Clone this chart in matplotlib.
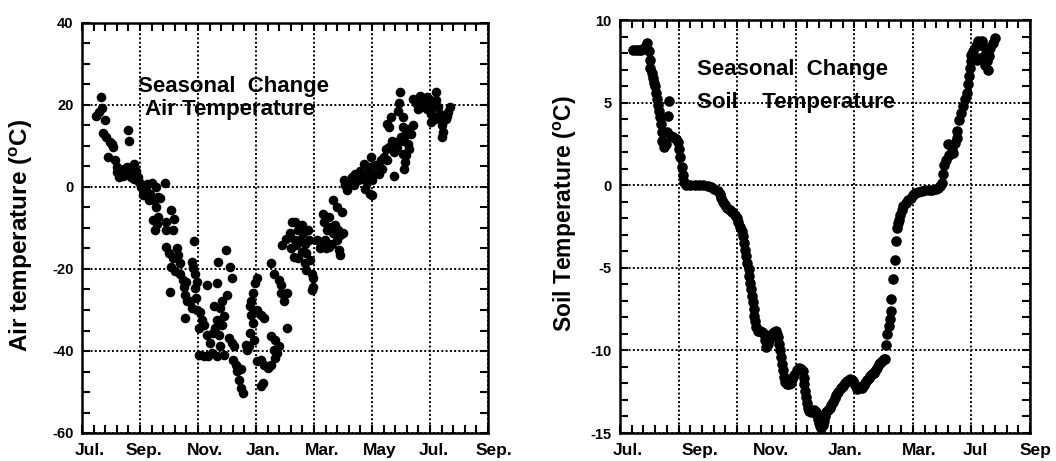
import numpy as np
import matplotlib
matplotlib.use('Agg')
from matplotlib import pyplot as plt
from matplotlib.ticker import MultipleLocator
from matplotlib.transforms import blended_transform_factory

plt.rcParams['font.family'] = 'Liberation Sans'
plt.rcParams['font.weight'] = 'bold'
plt.rcParams['axes.unicode_minus'] = False
plt.rcParams['mathtext.fontset'] = 'custom'
plt.rcParams['mathtext.rm'] = 'Liberation Sans:bold'
plt.rcParams['mathtext.bf'] = 'Liberation Sans:bold'

# x axis: months since 1 July (grid every 2 months)
air_labels = ['Jul.', 'Sep.', 'Nov.', 'Jan.', 'Mar.', 'May', 'Jul.', 'Sep.']
air_label_pos = [0.28, 2.14, 4.24, 6.24, 8.28, 10.28, 12.14, 14.21]
soil_labels = ['Jul.', 'Sep.', 'Nov.', 'Jan.', 'Mar.', 'Jul', 'Sep']
soil_label_pos = [0.27, 2.73, 5.15, 7.68, 10.2, 12.12, 14.2]

# daily air temperature (month, degC)
air_points = [
    (0.47, 17.4), (0.64, 22.0), (0.68, 19.3), (0.58, 18.2), (0.81, 16.4), (0.73, 13.1),
    (0.84, 12.1), (0.95, 10.9), (0.91, 7.3), (1.07, 9.7), (1.14, 6.5), (1.22, 4.9),
    (1.22, 3.6), (1.34, 4.0), (1.40, 2.8), (1.57, 13.8), (1.61, 11.3), (1.54, 4.9),
    (1.63, 3.6), (1.69, 2.4), (1.80, 5.7), (1.86, 4.0), (1.80, 2.0), (1.92, 2.4),
    (1.98, 1.2), (1.46, 4.5), (1.05, 10.5), (1.26, 2.4),
    (2.04, 0.0), (2.10, -2.0), (2.19, -0.8), (2.24, 0.8), (2.30, -3.2), (2.33, -1.6),
    (2.42, 1.0), (2.47, -3.1), (2.54, -4.9), (2.56, 0.0), (2.62, -2.4), (2.68, -2.8),
    (2.85, 1.0), (2.44, -8.1), (2.50, -10.5), (2.62, -7.3), (2.58, -9.1), (2.91, -8.5),
    (3.08, -5.5), (3.17, -7.7), (2.91, -10.5), (3.14, -10.5), (2.91, -14.6), (3.00, -16.2),
    (3.14, -17.4), (3.26, -15.0), (3.32, -16.6), (3.38, -18.6), (3.08, -19.4), (3.20, -20.6),
    (3.38, -21.1), (3.49, -22.7), (3.52, -24.3), (3.59, -23.1), (3.03, -25.5), (3.55, -26.3),
    (3.61, -27.9), (3.73, -27.9), (3.78, -29.6), (3.84, -19.8), (3.78, -18.2), (3.90, -21.1),
    (3.96, -23.1), (3.55, -32.0), (3.87, -13.1), (3.90, -24.7), (3.93, -27.1), (3.96, -30.0),
    (4.07, -30.4), (4.13, -32.4), (4.02, -34.4), (4.19, -33.6), (4.31, -36.0), (4.05, -40.9),
    (4.19, -41.3), (4.33, -41.1), (4.48, -40.5), (4.40, -38.1), (4.52, -35.6), (4.60, -34.4),
    (4.66, -32.4), (4.56, -29.1), (4.31, -23.9), (4.66, -23.5), (4.69, -18.2), (4.95, -15.4),
    (5.12, -19.4), (5.16, -22.3), (5.01, -26.3), (4.83, -27.9), (4.75, -29.6), (4.89, -31.4),
    (4.83, -33.6), (4.71, -36.0), (4.77, -38.9), (4.66, -41.3), (4.89, -40.9), (5.06, -36.8),
    (5.18, -38.1), (5.24, -38.9), (5.22, -42.1), (5.30, -43.3), (5.36, -44.9), (5.49, -44.5),
    (5.41, -47.0), (5.47, -49.0), (5.56, -50.2), (5.65, -38.5), (5.76, -38.9), (5.70, -39.7),
    (5.84, -27.9), (5.80, -29.1), (5.88, -25.9), (5.96, -23.5), (6.05, -22.3), (5.82, -31.2),
    (5.88, -33.2), (5.80, -35.6), (5.94, -37.2), (6.05, -30.0), (6.17, -31.2), (6.29, -32.0),
    (6.03, -42.5), (6.17, -42.1), (6.29, -43.3), (6.40, -44.1), (6.52, -43.3), (6.17, -48.6),
    (6.23, -47.8), (6.64, -41.7), (6.73, -40.5), (6.78, -38.9), (6.52, -36.4), (6.66, -37.2),
    (6.61, -39.7), (6.52, -18.6), (6.61, -21.1), (6.81, -22.7), (6.85, -23.9), (6.87, -25.9),
    (7.08, -25.9), (6.98, -27.9), (7.08, -34.4), (6.89, -14.2), (7.04, -12.6), (7.16, -11.3),
    (7.24, -8.5), (7.33, -8.5), (7.45, -10.5), (7.57, -9.3), (7.62, -11.3), (7.22, -15.0),
    (7.39, -14.2), (7.31, -17.0), (7.45, -17.4), (7.57, -15.8), (7.68, -13.8), (7.74, -16.2),
    (7.80, -10.5), (7.82, -13.0), (7.86, -17.8), (7.68, -18.6), (7.74, -20.2), (7.92, -21.1),
    (7.97, -22.3), (7.97, -24.3), (7.92, -25.1), (7.51, -13.0), (7.33, -13.0),
    (8.09, -13.0), (8.21, -15.0), (8.32, -6.5), (8.36, -8.5), (8.44, -10.5), (8.50, -7.3),
    (8.59, -9.7), (8.67, -11.3), (8.73, -9.3), (8.82, -10.5), (8.91, -11.7), (8.99, -11.3),
    (8.27, -13.4), (8.38, -13.0), (8.41, -15.0), (8.52, -14.6), (8.61, -13.8), (8.79, -13.0),
    (8.85, -15.4), (8.91, -16.6), (8.67, -3.2), (8.79, -4.9), (8.96, -6.1), (9.02, 1.6),
    (9.08, 0.4), (9.14, -0.8), (9.20, 1.2), (9.31, 2.4), (9.37, 0.4), (9.43, 3.2),
    (9.52, 1.6), (9.60, 4.0), (9.66, 2.0), (9.72, 5.7), (9.78, 3.2), (9.90, 4.9),
    (9.95, 7.3), (9.84, 1.2), (9.76, -0.4), (9.92, -1.6), (10.01, -2.0), (9.99, 1.6),
    (10.07, 3.2), (10.13, 5.3),
    (10.24, 3.2), (10.36, 4.5), (10.30, 6.5), (10.42, 7.3), (10.53, 6.5), (10.48, 9.3),
    (10.59, 9.7), (10.68, 11.3), (10.59, 14.6), (10.53, 15.4), (10.65, 17.0), (10.77, 2.8),
    (10.77, 8.5), (10.85, 9.7), (10.94, 11.3), (10.88, 18.6), (10.94, 20.6), (10.96, 23.1),
    (11.06, 17.0), (11.08, 14.6), (11.00, 12.1), (11.12, 11.3), (11.18, 13.0), (11.29, 14.2),
    (11.35, 13.0), (11.41, 15.0), (11.23, 10.5), (11.29, 9.3), (11.18, 7.7), (11.15, 6.1),
    (11.12, 4.5), (11.06, 8.1),
    (11.43, 21.5), (11.52, 20.6), (11.64, 22.3), (11.73, 21.1), (11.70, 19.4), (11.82, 20.2),
    (11.90, 19.0), (11.99, 21.1), (12.05, 17.8), (12.11, 19.4), (12.22, 23.1), (12.20, 21.1),
    (12.28, 19.4), (12.34, 17.8), (12.16, 16.6), (12.05, 15.8), (12.40, 15.0), (12.46, 16.2),
    (12.40, 12.1), (12.46, 13.4), (12.55, 16.6), (12.63, 18.2), (12.69, 19.4), (12.57, 17.4),
    (11.58, 19.0), (11.88, 21.9),
]

# daily soil temperature (month, degC)
soil_points = [
    (0.46, 8.2), (0.55, 8.2), (0.64, 8.2), (0.73, 8.2), (0.82, 8.3), (0.92, 8.6), (0.98, 8.1),
    (1.01, 7.6), (1.04, 7.1), (1.08, 6.8), (1.12, 6.5), (1.16, 6.2), (1.19, 6.0), (1.23, 5.6),
    (1.27, 5.2), (1.30, 4.85), (1.33, 4.5), (1.36, 4.1), (1.39, 3.7), (1.42, 3.2), (1.44, 2.7),
    (1.50, 2.3), (1.58, 2.5), (1.62, 3.2), (1.65, 4.2), (1.67, 5.1), (1.74, 3.0), (1.82, 2.9),
    (1.90, 2.8), (1.97, 2.6), (2.02, 2.2), (2.06, 1.7), (2.10, 1.1), (2.15, 0.6), (2.20, 0.2),
    (2.27, 0.0), (2.40, 0.0), (2.55, 0.0), (2.70, 0.0), (2.85, 0.0), (3.00, -0.05), (3.12, -0.1),
    (3.22, -0.2), (3.35, -0.35), (3.41, -0.55), (3.46, -0.8), (3.52, -1.0), (3.58, -1.2),
    (3.66, -1.35), (3.75, -1.5), (3.84, -1.65), (3.93, -1.8), (3.99, -2.0), (4.04, -2.2),
    (4.10, -2.5), (4.16, -2.8), (4.20, -3.1), (4.24, -3.5), (4.28, -3.9), (4.31, -4.3),
    (4.35, -4.7), (4.39, -5.1), (4.42, -5.5), (4.45, -5.9), (4.48, -6.3), (4.50, -6.7),
    (4.53, -7.1), (4.56, -7.5), (4.59, -7.9), (4.62, -8.2), (4.66, -8.6), (4.70, -8.8),
    (4.74, -8.8), (4.79, -8.8), (4.85, -8.9), (4.91, -9.0), (4.95, -9.4), (4.99, -9.8),
    (5.04, -9.6), (5.08, -9.4), (5.14, -9.2), (5.20, -9.0), (5.26, -8.9), (5.31, -8.8),
    (5.35, -9.0), (5.39, -9.2), (5.44, -9.6), (5.48, -10.0), (5.51, -10.4), (5.54, -10.8),
    (5.57, -11.2), (5.60, -11.6), (5.64, -11.9), (5.69, -12.05), (5.76, -12.05), (5.83, -12.0),
    (5.89, -11.75), (5.95, -11.5), (6.03, -11.2), (6.12, -11.05), (6.18, -11.1), (6.24, -11.25),
    (6.27, -11.65), (6.29, -12.05), (6.32, -12.45), (6.35, -12.85), (6.38, -13.2), (6.41, -13.5),
    (6.47, -13.65), (6.52, -13.7), (6.58, -13.65), (6.64, -13.6), (6.69, -13.75), (6.73, -13.9),
    (6.77, -14.15), (6.81, -14.4), (6.84, -14.55), (6.87, -14.7), (6.92, -14.5), (6.96, -14.3),
    (7.00, -14.0), (7.04, -13.7), (7.10, -13.6), (7.16, -13.5), (7.22, -13.3), (7.27, -13.1),
    (7.33, -12.9), (7.39, -12.7), (7.46, -12.5), (7.54, -12.3), (7.61, -12.15), (7.68, -12.0),
    (7.76, -11.85), (7.85, -11.75), (7.91, -11.8), (7.97, -11.85), (8.02, -12.1), (8.08, -12.35),
    (8.17, -12.3), (8.26, -12.25), (8.32, -12.1), (8.37, -11.95), (8.43, -11.8), (8.49, -11.65),
    (8.55, -11.55), (8.60, -11.45), (8.66, -11.35), (8.72, -11.25), (8.78, -11.05), (8.83, -10.85),
    (8.89, -10.75), (8.95, -10.65), (9.00, -10.55), (9.04, -10.5), (9.08, -9.7), (9.13, -9.0),
    (9.18, -8.5), (9.21, -8.1), (9.24, -7.6), (9.27, -6.9), (9.33, -5.7), (9.38, -4.5),
    (9.42, -3.4), (9.46, -2.6), (9.49, -2.3), (9.52, -2.1), (9.57, -1.8), (9.62, -1.5),
    (9.68, -1.25), (9.75, -1.05), (9.83, -0.9), (9.92, -0.75), (10.00, -0.6), (10.08, -0.5),
    (10.18, -0.42), (10.30, -0.35), (10.42, -0.32), (10.55, -0.3), (10.66, -0.28), (10.78, -0.25),
    (10.86, -0.18), (10.92, -0.05), (10.98, 0.15), (11.03, 0.65), (11.08, 1.2), (11.14, 1.5),
    (11.20, 2.5), (11.24, 1.85), (11.32, 2.25), (11.37, 1.95), (11.43, 2.55), (11.50, 2.85),
    (11.52, 3.3), (11.58, 3.95), (11.66, 4.4), (11.72, 4.8), (11.78, 5.2), (11.84, 5.6),
    (11.87, 6.1), (11.92, 6.6), (11.95, 7.1), (11.97, 7.5), (12.00, 7.9), (12.07, 8.15),
    (12.16, 8.4), (12.24, 8.7), (12.36, 8.75), (12.41, 8.4), (12.47, 7.9), (12.53, 7.5),
    (12.56, 7.0), (12.47, 7.3), (12.30, 7.7), (12.18, 7.6), (12.59, 7.8), (12.64, 8.3),
    (12.74, 8.6), (12.82, 8.9),
]

air_month, air_temp = np.array(air_points).T
soil_month, soil_temp = np.array(soil_points).T


def style_axes(ax, ylim, ymajor, yminor, labels, label_pos):
    ax.set_xlim(0, 14)
    ax.set_ylim(*ylim)
    ax.xaxis.set_major_locator(MultipleLocator(2))
    ax.xaxis.set_minor_locator(MultipleLocator(0.4))
    ax.yaxis.set_major_locator(MultipleLocator(ymajor))
    ax.yaxis.set_minor_locator(MultipleLocator(yminor))
    ax.grid(True, which='major', color='black', linestyle=(0, (1, 1.2)), linewidth=1.4)
    ax.tick_params(which='both', direction='in', top=True, right=True,
                   length=5.5, width=1.5, labelbottom=False, labelsize=10.5, pad=6)
    for sp in ax.spines.values():
        sp.set_linewidth(1.8)
    trans = blended_transform_factory(ax.transData, ax.transAxes)
    for lab, pos in zip(labels, label_pos):
        ax.text(pos, -0.054, lab, transform=trans, ha='center', va='baseline',
                fontsize=12.5, fontweight='bold')


fig = plt.figure(figsize=(10.56, 4.61), dpi=100)

ax1 = fig.add_axes([82 / 1056, 28 / 461, 406 / 1056, 410 / 461])
style_axes(ax1, (-60, 40), 20, 5, air_labels, air_label_pos)
ax1.scatter(air_month, air_temp, s=48, color='black', linewidths=0, zorder=3)
ax1.text(1.93, 23.2, 'Seasonal  Change', fontsize=16, fontweight='bold', va='baseline')
ax1.text(2.17, 17.6, 'Air Temperature', fontsize=16, fontweight='bold', va='baseline')
fig.text(21 / 1056, 1 - 235 / 461, r'Air temperature ($^{\mathbf{o}}$C)', rotation=90,
         ha='center', va='center', fontsize=17.5, fontweight='bold')

ax2 = fig.add_axes([620 / 1056, 28 / 461, 410 / 1056, 413 / 461])
style_axes(ax2, (-15, 10), 5, 1, soil_labels, soil_label_pos)
ax2.scatter(soil_month, soil_temp, s=58, color='black', linewidths=0, zorder=3)
ax2.text(2.63, 6.67, 'Seasonal  Change', fontsize=16, fontweight='bold', va='baseline')
ax2.text(2.63, 4.67, 'Soil    Temperature', fontsize=16, fontweight='bold', va='baseline')
fig.text(565 / 1056, 1 - 214 / 461, r'Soil Temperature ($^{\mathbf{o}}$C)', rotation=90,
         ha='center', va='center', fontsize=16.5, fontweight='bold')

fig.savefig('out.png', dpi=100)
